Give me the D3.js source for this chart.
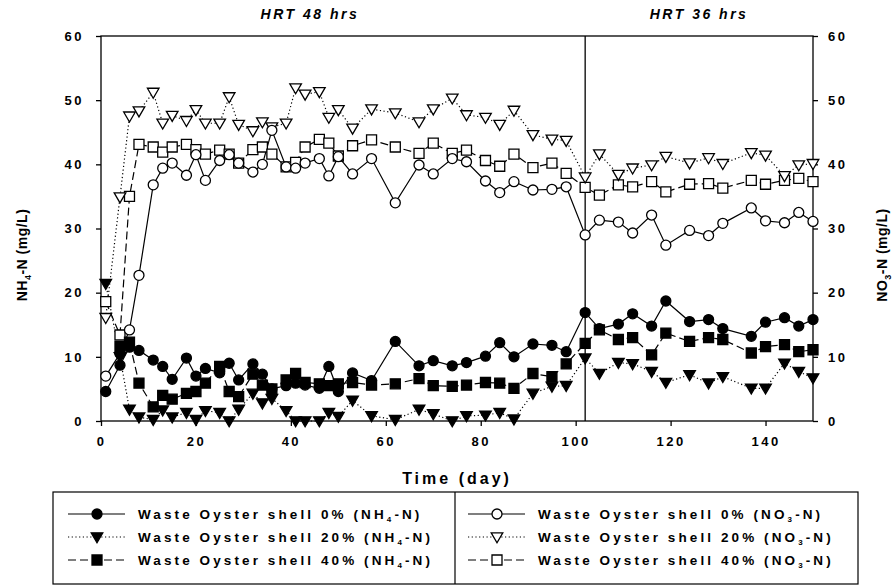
<!DOCTYPE html>
<html lang="en">
<head>
<meta charset="UTF-8">
<title>NH4-N and NO3-N over time</title>
<script src="https://d3js.org/d3.v7.min.js"></script>
<style>
  body { margin: 0; background: #fff; }
  text { font-family: "Liberation Sans", Arial, sans-serif; font-weight: bold; fill: #000; }
  .tick text { font-size: 13px; letter-spacing: 2.5px; }
  .axis path, .axis line { stroke: #000; stroke-width: 1.3; }
</style>
</head>
<body>
<svg id="chart" width="895" height="587"></svg>
<script>
// sampling days (shared by all series)
const days = [1, 4, 6, 8, 11, 13, 15, 18, 20, 22, 25, 27, 29, 32, 34, 36, 39, 41, 43, 46,
  48, 50, 53, 57, 62, 67, 70, 74, 77, 81, 84, 87, 91, 95, 98, 102, 105, 109, 112, 116,
  119, 124, 128, 131, 137, 140, 144, 147, 150];

// NH4-N (left axis)
const nh4_0 = [4.6, 8.7, 11.5, 11.0, 9.5, 8.5, 6.5, 9.8, 7.0, 8.2, 7.5, 9.0, 6.4, 8.9, 7.3, 5.0, 5.5, 5.9, 5.6, 5.1,
  8.5, 4.6, 7.5, 6.3, 12.4, 8.6, 9.4, 8.6, 9.1, 10.1, 12.2, 10.0, 12.0, 11.8, 10.8, 16.9, 14.4, 15.1, 16.7, 14.8,
  18.7, 15.5, 15.8, 14.4, 13.2, 15.4, 16.1, 14.8, 15.8];
const nh4_20 = [21.4, 10.0, 1.8, 0.6, 0.2, 1.7, 0.6, 1.3, 0.2, 1.6, 1.3, 0.0, 1.8, 4.3, 2.8, 3.5, 1.6, 0.0, 0.0, 0.0,
  1.3, 0.7, 3.2, 0.8, 0.2, 1.8, 1.1, 0.0, 0.8, 0.9, 1.3, 0.3, 4.3, 5.4, 5.5, 9.8, 7.4, 9.1, 8.9, 7.7,
  6.0, 7.2, 5.9, 6.9, 5.1, 5.1, 9.0, 7.7, 6.7];
const nh4_40 = [null, 11.6, 12.3, 5.9, 2.2, 4.0, 3.4, 4.3, 4.6, 5.9, 8.5, 4.6, 3.8, 7.3, 5.6, 5.0, 6.4, 7.4, 6.0, 5.8,
  5.5, 5.8, 6.0, 5.6, 5.8, 6.6, 5.5, 5.4, 5.6, 6.0, 5.9, 5.1, 7.4, 6.9, 8.9, 12.1, 14.2, 12.7, 13.0, 10.3,
  13.7, 12.4, 13.0, 12.7, 10.6, 11.6, 11.9, 10.8, 11.1];

// NO3-N (right axis)
const no3_0 = [7.0, 10.5, 14.2, 22.7, 36.8, 39.4, 40.2, 38.3, 41.5, 37.5, 40.6, 41.5, 40.2, 38.8, 40.0, 45.3, 39.6, 39.4, 40.2, 40.9,
  38.2, 41.2, 38.5, 40.9, 34.0, 39.9, 38.5, 40.9, 40.4, 37.4, 35.6, 37.3, 36.0, 36.1, 36.5, 29.0, 31.3, 31.0, 29.3, 32.1,
  27.4, 29.7, 28.9, 30.8, 33.2, 31.2, 30.9, 32.5, 31.1];
const no3_20 = [16.1, 34.9, 47.5, 48.3, 51.2, 46.4, 47.6, 46.8, 48.5, 46.4, 46.4, 50.5, 46.2, 45.2, 46.6, 45.8, 46.4, 51.9, 50.9, 51.3,
  47.3, 48.5, 45.6, 48.6, 48.0, 46.6, 48.6, 50.3, 47.7, 47.3, 46.2, 48.4, 44.6, 43.9, 43.7, 38.0, 41.6, 38.4, 39.4, 39.9,
  41.2, 40.2, 41.0, 40.1, 41.8, 41.4, 38.2, 39.9, 40.1];
const no3_40 = [18.6, 13.4, 35.0, 43.1, 42.7, 41.9, 42.7, 43.1, 42.3, 41.6, 42.2, 41.6, 40.2, 42.3, 42.7, 41.6, 39.6, 40.3, 42.7, 43.9,
  43.3, 41.3, 42.9, 43.8, 42.7, 41.7, 43.3, 41.7, 42.2, 40.6, 39.7, 41.6, 39.5, 40.2, 38.6, 36.4, 35.2, 36.8, 36.5, 37.3,
  35.7, 36.9, 37.0, 36.3, 37.5, 36.9, 37.5, 37.8, 37.3];

const yTicks = [0, 10, 20, 30, 40, 50, 60];
const xTicks = [0, 20, 40, 60, 80, 100, 120, 140];
const hrtChangeDay = 102;
const periods = [{ label: "HRT 48 hrs", at: 44 }, { label: "HRT 36 hrs", at: 126 }];

const svg = d3.select("#chart");
const pLeft = 101, pRight = 813, pTop = 36, pBottom = 421;

const x = d3.scaleLinear().domain([0, 150]).range([pLeft, pRight]);
const yL = d3.scaleLinear().domain([0, 60]).range([pBottom, pTop]);
const yR = d3.scaleLinear().domain([0, 60]).range([pBottom, pTop]);

// marker shapes
const shapes = {
  circle: "M5,0A5,5,0,1,1,-5,0A5,5,0,1,1,5,0Z",
  square: "M-5,-5H5V5H-5Z",
  tri: "M-5.8,-4.2H5.8L0,5.8Z"
};

const series = [
  { name: "nh4_0", values: nh4_0, y: yL, shape: "circle", filled: true, dash: null },
  { name: "nh4_20", values: nh4_20, y: yL, shape: "tri", filled: true, dash: "1.2,2.5" },
  { name: "nh4_40", values: nh4_40, y: yL, shape: "square", filled: true, dash: "8,4" },
  { name: "no3_0", values: no3_0, y: yR, shape: "circle", filled: false, dash: null },
  { name: "no3_20", values: no3_20, y: yR, shape: "tri", filled: false, dash: "1.2,2.5" },
  { name: "no3_40", values: no3_40, y: yR, shape: "square", filled: false, dash: "8,4" }
];

// frame
svg.append("rect").attr("x", pLeft).attr("y", pTop).attr("width", pRight - pLeft).attr("height", pBottom - pTop)
  .attr("fill", "none").attr("stroke", "#000").attr("stroke-width", 1.3);

// HRT divider
svg.append("line").attr("x1", x(hrtChangeDay)).attr("x2", x(hrtChangeDay)).attr("y1", pTop).attr("y2", pBottom)
  .attr("stroke", "#000").attr("stroke-width", 1.3);

// axes
svg.append("g").attr("class", "axis").attr("transform", `translate(${pLeft},0)`)
  .call(d3.axisLeft(yL).tickValues(yTicks).tickSize(5).tickPadding(12));
svg.append("g").attr("class", "axis").attr("transform", `translate(${pRight},0)`)
  .call(d3.axisRight(yR).tickValues(yTicks).tickSize(5).tickPadding(10));
svg.append("g").attr("class", "axis").attr("transform", `translate(0,${pBottom})`)
  .call(d3.axisBottom(x).tickValues(xTicks).tickSize(5).tickPadding(11));
svg.selectAll(".axis .domain").remove();

// period titles
svg.selectAll(".period").data(periods).enter().append("text")
  .attr("x", d => x(d.at))
  .attr("y", 19)
  .attr("text-anchor", "middle")
  .style("font-size", "14px").style("font-style", "italic").style("letter-spacing", "2.5px")
  .text(d => d.label);

// axis titles
svg.append("text").attr("x", x(75)).attr("y", 484).attr("text-anchor", "middle")
  .style("font-size", "16px").style("letter-spacing", "3px").text("Time (day)");

function yTitle(xPos, sub) {
  const t = svg.append("text").attr("transform", `translate(${xPos},255) rotate(-90)`)
    .attr("text-anchor", "middle").style("font-size", "14px").style("letter-spacing", "0.5px");
  t.append("tspan").text(sub === "4" ? "NH" : "NO");
  t.append("tspan").attr("dy", 4).style("font-size", "9px").text(sub);
  t.append("tspan").attr("dy", -4).text("-N (mg/L)");
}
yTitle(27, "4");
yTitle(887, "3");

// lines
const plot = svg.append("g");
series.forEach(s => {
  const line = d3.line()
    .defined(d => d.v != null)
    .x(d => x(d.day))
    .y(d => s.y(d.v));
  const pts = days.map((day, i) => ({ day, v: s.values[i] }));
  plot.append("path").datum(pts)
    .attr("d", line)
    .attr("fill", "none").attr("stroke", "#000").attr("stroke-width", 1.2)
    .attr("stroke-dasharray", s.dash);
});
// markers (open ones on top)
[...series].reverse().forEach(s => {
  const pts = days.map((day, i) => ({ day, v: s.values[i] })).filter(d => d.v != null);
  plot.selectAll(null).data(pts).enter().append("path")
    .attr("d", shapes[s.shape])
    .attr("transform", d => `translate(${x(d.day)},${s.y(d.v)})`)
    .attr("fill", s.filled ? "#000" : "#fff")
    .attr("stroke", "#000").attr("stroke-width", 1.3);
});

// legend
const legTop = 492, legBottom = 584, legLeft = 53, legMid = 455, legRight = 858;
svg.append("rect").attr("x", legLeft).attr("y", legTop).attr("width", legRight - legLeft).attr("height", legBottom - legTop)
  .attr("fill", "none").attr("stroke", "#000").attr("stroke-width", 1.2);
svg.append("line").attr("x1", legMid).attr("x2", legMid).attr("y1", legTop).attr("y2", legBottom)
  .attr("stroke", "#000").attr("stroke-width", 1.2);

const legendLabels = ["0%", "20%", "40%"];
series.forEach((s, i) => {
  const col = i < 3 ? 0 : 1;
  const row = i % 3;
  const lx = col === 0 ? 68 : 468;
  const ly = 514 + row * 23;
  const g = svg.append("g").attr("transform", `translate(${lx},${ly})`);
  g.append("line").attr("x1", 0).attr("x2", 57).attr("y1", 0).attr("y2", 0)
    .attr("stroke", "#000").attr("stroke-width", 1.2).attr("stroke-dasharray", s.dash);
  g.append("path").attr("d", shapes[s.shape]).attr("transform", "translate(29,0)")
    .attr("fill", s.filled ? "#000" : "#fff").attr("stroke", "#000").attr("stroke-width", 1.3);
  const t = g.append("text").attr("x", 70).attr("y", 5).style("font-size", "13.5px").style("letter-spacing", "3.1px");
  t.append("tspan").text(`Waste Oyster shell ${legendLabels[row]} (${col === 0 ? "NH" : "NO"}`);
  t.append("tspan").attr("dy", 3).style("font-size", "8px").text(col === 0 ? "4" : "3");
  t.append("tspan").attr("dy", -3).text("-N)");
});
</script>
</body>
</html>
